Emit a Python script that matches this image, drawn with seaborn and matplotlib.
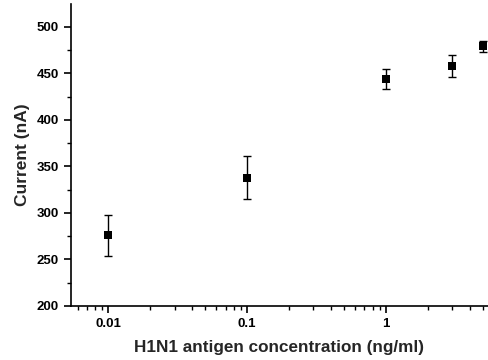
import numpy as np
import pandas as pd
import seaborn as sns
import matplotlib.pyplot as plt
from matplotlib.ticker import MultipleLocator, LogLocator, FixedLocator, FixedFormatter

# H1N1 antigen response data
concentration = [0.01, 0.1, 1, 3, 5]
current = [276, 338, 444, 458, 479]
err_low = [22, 23, 11, 12, 6]
err_high = [22, 23, 11, 12, 6]

df = pd.DataFrame({'conc': concentration, 'current': current})

sns.set_style('ticks')
plt.rcParams['font.family'] = ['Liberation Sans', 'DejaVu Sans']
plt.rcParams['font.weight'] = 'bold'

fig = plt.figure(figsize=(4.88, 3.6), dpi=100)
ax = fig.add_axes([0.145, 0.15, 0.855, 0.839])

ax.errorbar(df['conc'], df['current'], yerr=[err_low, err_high], fmt='none',
            ecolor='black', elinewidth=1, capsize=3, capthick=1, zorder=2)
sns.scatterplot(data=df, x='conc', y='current', marker='s', color='black',
                s=36, edgecolor='black', linewidth=0, ax=ax, zorder=3)

ax.set_xscale('log')
ax.set_xlim(0.00536, 5.43)
ax.set_ylim(200, 524.7)

ax.xaxis.set_major_locator(FixedLocator([0.01, 0.1, 1]))
ax.xaxis.set_major_formatter(FixedFormatter(['0.01', '0.1', '1']))
ax.xaxis.set_minor_locator(LogLocator(base=10, subs=np.arange(2, 10)))
ax.yaxis.set_major_locator(MultipleLocator(50))
ax.yaxis.set_minor_locator(MultipleLocator(25))

for side in ['top', 'right']:
    ax.spines[side].set_visible(False)
for side in ['left', 'bottom']:
    ax.spines[side].set_linewidth(1.2)
    ax.spines[side].set_color('black')

ax.tick_params(axis='both', which='major', direction='out', length=5, width=1.2,
               labelsize=9.5, colors='black')
ax.tick_params(axis='both', which='minor', direction='out', length=3, width=1,
               colors='black')
for lab in ax.get_xticklabels() + ax.get_yticklabels():
    lab.set_fontweight('bold')

ax.set_xlabel('H1N1 antigen concentration (ng/ml)', fontsize=12.3,
              fontweight='bold', labelpad=7)
ax.set_ylabel('Current (nA)', fontsize=12.5, fontweight='bold', labelpad=5)

fig.savefig('out.png', dpi=100)
